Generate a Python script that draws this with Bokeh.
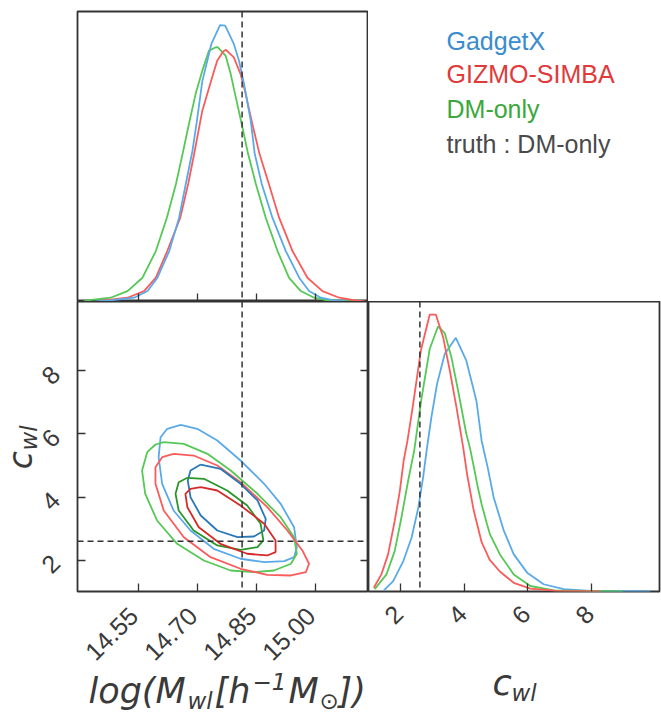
from math import pi
from bokeh.plotting import figure
from bokeh.models import Label, LinearAxis, FixedTicker, Range1d, Span
from bokeh.layouts import row, column
from bokeh.embed import file_html
from bokeh.resources import INLINE
from bokeh.core.properties import value

# ---------------- data ----------------
series_names = ["GadgetX", "GIZMO-SIMBA", "DM-only"]
m_ticks = [14.55, 14.70, 14.85, 15.00]
m_tick_labels = ["14.55", "14.70", "14.85", "15.00"]
c_ticks = [2, 4, 6, 8]
c_tick_labels = ["2", "4", "6", "8"]
truth_logm = 14.813
truth_c = 2.61

# 1D marginal of log(M_wl) (normalised height)
gx_m = [14.440, 14.478, 14.539, 14.573, 14.598, 14.628, 14.653, 14.670, 14.687, 14.698, 14.712, 14.735,
        14.757, 14.770, 14.792, 14.805, 14.818, 14.835, 14.845, 14.863, 14.890, 14.924, 14.958, 14.983,
        15.013, 15.046, 15.077]
gx_m_pdf = [0.000, 0.004, 0.013, 0.036, 0.082, 0.174, 0.289, 0.405, 0.520, 0.620, 0.760, 0.888,
            0.953, 0.951, 0.888, 0.831, 0.750, 0.623, 0.510, 0.405, 0.289, 0.174, 0.082, 0.036,
            0.013, 0.004, 0.000]
gs_m = [14.450, 14.462, 14.522, 14.564, 14.594, 14.623, 14.656, 14.676, 14.690, 14.712, 14.737, 14.750,
        14.765, 14.772, 14.792, 14.809, 14.822, 14.839, 14.857, 14.881, 14.907, 14.941, 14.979, 15.017,
        15.060, 15.100, 15.125]
gs_m_pdf = [0.000, 0.004, 0.013, 0.036, 0.082, 0.174, 0.289, 0.405, 0.500, 0.658, 0.773, 0.831,
            0.862, 0.868, 0.842, 0.785, 0.716, 0.612, 0.510, 0.405, 0.289, 0.174, 0.082, 0.036,
            0.013, 0.004, 0.000]
dm_m = [14.410, 14.420, 14.479, 14.522, 14.560, 14.594, 14.622, 14.645, 14.662, 14.678, 14.695, 14.712,
        14.729, 14.745, 14.751, 14.771, 14.784, 14.797, 14.814, 14.828, 14.848, 14.873, 14.903, 14.932,
        14.962, 14.996, 15.030, 15.110]
dm_m_pdf = [0.000, 0.004, 0.013, 0.036, 0.082, 0.174, 0.289, 0.405, 0.510, 0.612, 0.716, 0.796,
            0.865, 0.876, 0.877, 0.848, 0.785, 0.704, 0.600, 0.510, 0.405, 0.289, 0.174, 0.082,
            0.036, 0.013, 0.004, 0.000]

# 1D marginal of c_wl (normalised height)
gx_c = [1.48, 1.77, 2.09, 2.35, 2.56, 2.71, 2.82, 2.97, 3.15, 3.39, 3.74, 4.07, 4.28, 4.39, 4.55, 4.74,
        4.93, 5.25, 5.56, 5.98, 6.50, 7.13, 7.97, 9.85]
gx_c_pdf = [0.004, 0.036, 0.105, 0.186, 0.289, 0.393, 0.485, 0.600, 0.716, 0.819, 0.875, 0.796, 0.704,
            0.655, 0.520, 0.428, 0.324, 0.209, 0.128, 0.065, 0.025, 0.008, 0.002, 0.000]
gs_c = [1.16, 1.40, 1.61, 1.82, 1.98, 2.10, 2.22, 2.39, 2.64, 2.92, 3.11, 3.34, 3.55, 3.76, 3.97, 4.10,
        4.30, 4.55, 4.80, 5.13, 5.56, 6.08, 6.92, 8.30]
gs_c_pdf = [0.013, 0.059, 0.128, 0.244, 0.347, 0.451, 0.520, 0.640, 0.831, 0.955, 0.955, 0.877, 0.762,
            0.635, 0.497, 0.400, 0.280, 0.170, 0.110, 0.068, 0.030, 0.010, 0.002, 0.000]
dm_c = [1.19, 1.56, 1.82, 2.03, 2.24, 2.43, 2.65, 2.92, 3.18, 3.39, 3.60, 3.81, 4.07, 4.18, 4.33, 4.41,
        4.55, 4.72, 4.81, 5.13, 5.56, 6.08, 6.82, 7.87, 9.00]
dm_c_pdf = [0.008, 0.059, 0.140, 0.255, 0.382, 0.485, 0.658, 0.837, 0.914, 0.891, 0.808, 0.693, 0.543,
            0.497, 0.416, 0.370, 0.301, 0.232, 0.198, 0.127, 0.059, 0.019, 0.004, 0.002, 0.000]

# 2D contours (outer = 2 sigma, inner = 1 sigma)
gx_outer_m = [14.657, 14.699, 14.750, 14.809, 14.869, 14.911, 14.945, 14.952, 14.945, 14.920, 14.869, 14.809,
              14.741, 14.682, 14.639, 14.610, 14.601, 14.606, 14.623, 14.657]
gx_outer_c = [6.285, 6.159, 5.789, 5.158, 4.422, 3.790, 3.051, 2.420, 2.104, 1.978, 1.946, 2.054,
              2.369, 2.947, 3.579, 4.422, 5.262, 5.893, 6.159, 6.285]
dm_outer_m = [14.614, 14.665, 14.725, 14.784, 14.852, 14.911, 14.945, 14.952, 14.937, 14.894, 14.843, 14.784,
              14.716, 14.648, 14.597, 14.567, 14.559, 14.572, 14.593, 14.614]
dm_outer_c = [5.735, 5.685, 5.369, 4.842, 4.106, 3.367, 2.736, 2.212, 1.896, 1.684, 1.631, 1.684,
              2.000, 2.527, 3.263, 4.106, 4.842, 5.420, 5.663, 5.735]
gs_outer_m = [14.639, 14.690, 14.750, 14.809, 14.877, 14.928, 14.966, 14.983, 14.975, 14.937, 14.877, 14.809,
              14.733, 14.665, 14.614, 14.593, 14.593, 14.610, 14.639]
gs_outer_c = [5.369, 5.315, 5.000, 4.472, 3.683, 2.947, 2.316, 1.896, 1.631, 1.526, 1.548, 1.738,
              2.104, 2.736, 3.579, 4.422, 4.946, 5.262, 5.369]
gx_inner_m = [14.708, 14.758, 14.809, 14.852, 14.873, 14.869, 14.843, 14.801, 14.750, 14.708, 14.682, 14.675,
              14.682, 14.708]
gx_inner_c = [5.031, 4.895, 4.422, 3.895, 3.317, 2.947, 2.758, 2.736, 2.947, 3.421, 3.999, 4.526,
              4.842, 5.031]
dm_inner_m = [14.674, 14.716, 14.775, 14.826, 14.860, 14.867, 14.852, 14.809, 14.750, 14.690, 14.652, 14.644,
              14.652, 14.674]
dm_inner_c = [4.611, 4.580, 4.210, 3.737, 3.159, 2.632, 2.420, 2.338, 2.474, 2.947, 3.579, 4.106,
              4.472, 4.611]
gs_inner_m = [14.708, 14.750, 14.809, 14.869, 14.898, 14.898, 14.877, 14.826, 14.758, 14.703, 14.674, 14.669,
              14.682, 14.708]
gs_inner_c = [4.315, 4.210, 3.737, 3.159, 2.632, 2.262, 2.158, 2.212, 2.527, 3.051, 3.683, 4.106,
              4.264, 4.315]

# ---------------- style / layout constants ----------------
LIGHT = {"GadgetX": "#5aaae8", "GIZMO-SIMBA": "#fa5c5c", "DM-only": "#55c855"}
DARK = {"GadgetX": "#2a78b8", "GIZMO-SIMBA": "#d42a2a", "DM-only": "#2a962a"}
LEG = {"GadgetX": "#3a8ccc", "GIZMO-SIMBA": "#e03a3a", "DM-only": "#3aa83a"}
FRAME = "#333333"
TXT = "#3a3a3a"
TICK_FONT = "Liberation Sans"
MATH_FONT = "DejaVu Sans"
LW = 1.8
MID = 0.346  # distance (in em) from alphabetic baseline up to the text's middle line

M0, M1 = 14.395, 15.134      # log M range (frame width 291 px)
C0, C1 = 1.02, 10.18         # c range on the 2D panel y axis (frame height 290 px)
CX0, CX1 = 0.995, 10.14      # c range on the marginal x axis (frame width 291 px)
FW, FH = 291, 290


def new_fig(w, h, xr, yr, left=0, right=0, top=0, bottom=0, outline=True):
    p = figure(width=w, height=h, x_range=xr, y_range=yr, output_backend="svg", title=None,
               toolbar_location=None, x_axis_location=None, y_axis_location=None,
               min_border_left=left, min_border_right=right,
               min_border_top=top, min_border_bottom=bottom)
    p.outline_line_color = FRAME if outline else None
    p.outline_line_width = 1.8
    p.grid.visible = False
    p.background_fill_color = "white"
    p.border_fill_color = "white"
    return p


def tick_marks(p, ticks, fixed, side):
    ax = LinearAxis(ticker=FixedTicker(ticks=ticks), major_tick_in=8, major_tick_out=0,
                    minor_tick_line_color=None, axis_line_color=None,
                    major_tick_line_color=FRAME, major_tick_line_width=1.3,
                    fixed_location=fixed, major_label_overrides={t: "" for t in ticks},
                    major_label_standoff=0)
    p.add_layout(ax, side)


def truth_span(p, loc, dim):
    p.add_layout(Span(location=loc, dimension=dim, line_color="#333333",
                      line_width=1.5, line_dash="6 4"))


def txt(p, x, y, texts, size, font=MATH_FONT, italic=True, angle=0.0, align="left",
        baseline="middle", color=TXT, x_offset=0, y_offset=0):
    p.text(x=x, y=y, text=texts, angle=angle, x_offset=x_offset, y_offset=y_offset,
           text_font=value(font), text_font_size=value(f"{size}px"),
           text_font_style=value("italic" if italic else "normal"),
           text_align=value(align), text_baseline=value(baseline), text_color=color)


# ---------------- top-left: marginal of log M ----------------
p1 = new_fig(77 + FW, 11 + FH, Range1d(M0, M1), Range1d(0, 1), left=77, top=11)
tick_marks(p1, m_ticks, 0, "below")
for name, xs, ys in [("DM-only", dm_m, dm_m_pdf), ("GIZMO-SIMBA", gs_m, gs_m_pdf), ("GadgetX", gx_m, gx_m_pdf)]:
    p1.line(xs, ys, line_color=LIGHT[name], line_width=LW)
truth_span(p1, truth_logm, "height")

# ---------------- legend panel (top-right) ----------------
p4 = new_fig(293, 11 + FH, Range1d(0, 1), Range1d(0, 1), outline=False)
leg_texts = ["GadgetX", "GIZMO-SIMBA", "DM-only", "truth :  DM-only"]
leg_cols = [LEG["GadgetX"], LEG["GIZMO-SIMBA"], LEG["DM-only"], "#4a4a4a"]
leg_y = [247, 214, 179, 144]
for t, col, yy in zip(leg_texts, leg_cols, leg_y):
    p4.add_layout(Label(x=78, y=yy, x_units="screen", y_units="screen", text=t,
                        text_font=TICK_FONT, text_font_size="25px", text_color=col))

# ---------------- left strip: y tick labels + y title ----------------
c_per_px = (C1 - C0) / FH
pl = new_fig(75, FH + 2, Range1d(0, 75), Range1d(C0 - 2 * c_per_px, C1), outline=False)
txt(pl, [55] * len(c_ticks), c_ticks, c_tick_labels, 25, font=TICK_FONT, italic=False,
    angle=pi / 4, align="right")
Y_TOP = 301  # page y of the top edge of the 2D frame


def c_at(page_y):
    return C1 - (page_y - Y_TOP) * c_per_px


# rotated title: baseline at page x 31 (main) / 36 (subscript)
txt(pl, [31 - MID * 33], [c_at(470)], ["c"], 33, angle=pi / 2)
txt(pl, [36 - MID * 23], [c_at(451)], ["wl"], 23, angle=pi / 2)

# ---------------- bottom-left: 2D contours ----------------
p2 = new_fig(2 + FW, FH + 2, p1.x_range, Range1d(C0, C1), left=2, bottom=2)
tick_marks(p2, m_ticks, C0, "below")
tick_marks(p2, c_ticks, M0, "left")
tick_marks(p2, c_ticks, M1, "right")
contours = [
    ("GadgetX", gx_outer_m, gx_outer_c, gx_inner_m, gx_inner_c),
    ("DM-only", dm_outer_m, dm_outer_c, dm_inner_m, dm_inner_c),
    ("GIZMO-SIMBA", gs_outer_m, gs_outer_c, gs_inner_m, gs_inner_c),
]
for name, om, oc, im, ic in contours:
    p2.line(om, oc, line_color=LIGHT[name], line_width=LW)
for name, om, oc, im, ic in contours:
    p2.line(im, ic, line_color=DARK[name], line_width=LW)
truth_span(p2, truth_logm, "height")
truth_span(p2, truth_c, "width")

# ---------------- bottom-right: marginal of c ----------------
p3 = new_fig(FW + 2, FH + 2, Range1d(CX0, CX1), Range1d(0, 1), right=2, bottom=2)
tick_marks(p3, c_ticks, 0, "below")
for name, xs, ys in [("GadgetX", gx_c, gx_c_pdf), ("DM-only", dm_c, dm_c_pdf), ("GIZMO-SIMBA", gs_c, gs_c_pdf)]:
    p3.line(xs, ys, line_color=LIGHT[name], line_width=LW)
truth_span(p3, truth_c, "height")

# ---------------- bottom strips: x tick labels + x titles ----------------
BH = 120           # strip height; page y = 713 - strip y
m_per_px = (M1 - M0) / FW
pbl = new_fig(77 + FW, BH, Range1d(M0 - 77 * m_per_px, M1), Range1d(0, BH), outline=False)
txt(pbl, m_ticks, [713 - 611] * len(m_ticks), m_tick_labels, 25, font=TICK_FONT, italic=False,
    angle=pi / 4, align="right", x_offset=-5)


def m_at(page_x):
    return M0 + (page_x - 77) * m_per_px


# pieces: text, font px, page x of left edge, page y of alphabetic baseline
for t, size, X, Y in [("log(M", 35, 88, 703), ("wl", 23, 187, 708), ("[h", 35, 214, 703),
                      ("\u22121", 23, 252, 689), ("M", 35, 288, 703), ("\u2299", 23, 319, 708),
                      ("])", 35, 338, 703)]:
    txt(pbl, [m_at(X)], [713 - (Y - MID * size)], [t], size)

cx_per_px = (CX1 - CX0) / FW
pbr = new_fig(FW + 2, BH, Range1d(CX0, CX0 + (FW + 2) * cx_per_px), Range1d(0, BH), outline=False)
txt(pbr, c_ticks, [713 - 609] * len(c_ticks), c_tick_labels, 25, font=TICK_FONT, italic=False,
    angle=pi / 4, align="right", x_offset=-2)


def cx_at(page_x):
    return CX0 + (page_x - 368) * cx_per_px


txt(pbr, [cx_at(492)], [713 - (695 - MID * 35)], ["c"], 35)
txt(pbr, [cx_at(511)], [713 - (700 - MID * 23)], ["wl"], 23)

layout = column(row(p1, p4), row(pl, p2, p3), row(pbl, pbr))
open("out.html", "w").write(file_html(layout, INLINE))
